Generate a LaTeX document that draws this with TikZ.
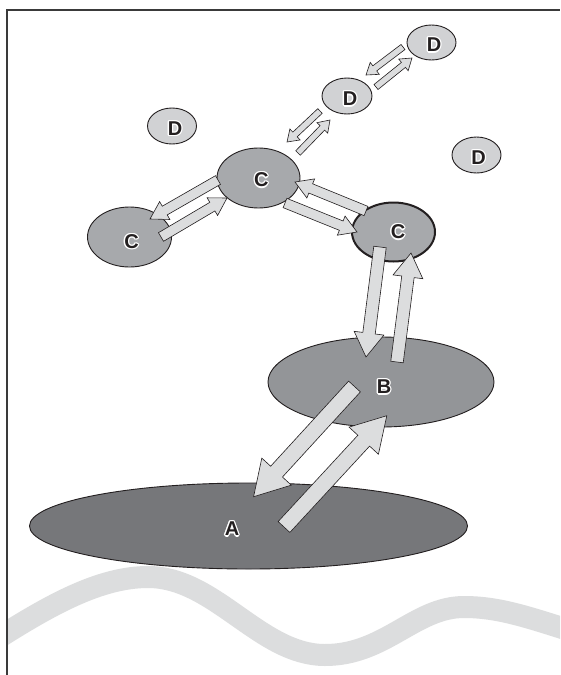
\documentclass[tikz,border=0pt]{standalone}
\usepackage{fontspec}
\setmainfont{Liberation Sans}
\usetikzlibrary{shapes.geometric,calc}
\definecolor{edgec}{HTML}{231F20}
\definecolor{framec}{HTML}{3A3A3A}
\definecolor{lightg}{HTML}{DCDDDE}
\definecolor{dfill}{HTML}{D1D2D4}
\definecolor{cfill}{HTML}{A7A9AC}
\definecolor{bfill}{HTML}{939598}
\definecolor{afill}{HTML}{76777A}
\newlength\olw
\setlength\olw{1.3pt}
\newcommand{\olcopy}[3]{\makebox[0pt][l]{\hspace*{#1}\raisebox{#2}{\color{white}#3}}}
\newcommand{\olab}[1]{%
\olcopy{-\olw}{0pt}{#1}\olcopy{\olw}{0pt}{#1}\olcopy{0pt}{\olw}{#1}\olcopy{0pt}{-\olw}{#1}%
\olcopy{-0.7\olw}{0.7\olw}{#1}\olcopy{0.7\olw}{0.7\olw}{#1}\olcopy{-0.7\olw}{-0.7\olw}{#1}\olcopy{0.7\olw}{-0.7\olw}{#1}%
#1}
\newcommand{\barrow}[5]{%
\filldraw[blockarrow] ($(#1)!#3!90:(#2)$) -- ($(#2)!#5!(#1)!#3!-90:(#1)$) -- ($(#2)!#5!(#1)!#4!-90:(#1)$) -- (#2) -- ($(#2)!#5!(#1)!#4!90:(#1)$) -- ($(#2)!#5!(#1)!#3!90:(#1)$) -- ($(#1)!#3!-90:(#2)$) -- cycle;}
\begin{document}
\begin{tikzpicture}[x=1pt,y=-1pt,
  ell/.style={ellipse, draw=edgec, line width=0.9pt, inner sep=0pt},
  ellD/.style={ell, fill=dfill, minimum width=49pt, minimum height=36pt},
  ellC/.style={ell, fill=cfill, minimum width=83pt, minimum height=60pt},
  lab/.style={inner sep=0pt, text=edgec, font=\fontsize{20}{20}\selectfont\bfseries},
  blockarrow/.style={fill=lightg, draw=edgec, line width=0.6pt, line join=miter},
  wave/.style={draw=lightg, line width=22pt},
  framestyle/.style={draw=framec, line width=1.7pt}]
\useasboundingbox (0,0) rectangle (560,675);
\fill[white] (0,0) rectangle (560,675);
% wave
\begin{scope}
\clip (7,9) rectangle (560,675);
\draw[wave] (-5,640) .. controls (50,605) and (100,577) .. (148,577)
  .. controls (215,577) and (260,655) .. (325,655)
  .. controls (385,655) and (415,607) .. (464,607)
  .. controls (500,607) and (530,618) .. (575,632);
\end{scope}
% frame
\draw[framestyle] (7,675) -- (7,9.8) -- (560,9.8);
% ellipses
\node[ell, fill=afill, minimum width=438pt, minimum height=86pt] (a) at (248.5,526) {};
\node[ell, fill=bfill, minimum width=226pt, minimum height=90pt] (b) at (381,382) {};
\node[ellC] (cc) at (258.5,178) {};
\node[ellC, minimum width=84pt] (cl) at (129.5,237) {};
\node[ellC, line width=2pt, minimum height=59pt] (cr) at (393.5,232) {};
\node[ellD, minimum height=35pt] (d1) at (431.5,42.5) {};
\node[ellD, minimum width=50pt] (d2) at (347,96) {};
\node[ellD] (d3) at (172,126) {};
\node[ellD] (d4) at (476.5,155) {};
% labels
\node[lab] (ld1) at (434,45) {\olab{D}};
\node[lab] (ld2) at (350,99) {\olab{D}};
\node[lab] (ld3) at (175,128.5) {\olab{D}};
\node[lab] (ld4) at (478.5,157.5) {\olab{D}};
\node[lab] (lcc) at (261.3,180) {\olab{C}};
\node[lab] (lcr) at (398,232) {\olab{C}};
\node[lab] (lcl) at (131.5,241.5) {\olab{C}};
\node[lab] (lb) at (384,387) {\olab{B}};
\node[lab] (la) at (232,529) {\olab{A}};
% arrow end points
\coordinate (a1s) at (403,47);    \coordinate (a1e) at (366,75);
\coordinate (a2s) at (376,87);    \coordinate (a2e) at (412,58);
\coordinate (a3s) at (320,111);   \coordinate (a3e) at (287,142);
\coordinate (a4s) at (298,153);   \coordinate (a4e) at (330,120);
\coordinate (a5s) at (218,180);   \coordinate (a5e) at (150,219);
\coordinate (a6s) at (161,237);   \coordinate (a6e) at (227,198);
\coordinate (a7s) at (285,203);   \coordinate (a7e) at (357,232);
\coordinate (a8s) at (366,211);   \coordinate (a8e) at (295,182);
\coordinate (a9s) at (380,247);   \coordinate (a9e) at (366,357);
\coordinate (a10s) at (397,362);  \coordinate (a10e) at (411,253);
\coordinate (a11s) at (354.5,386.5); \coordinate (a11e) at (253.6,496.7);
\coordinate (a12s) at (284,527);  \coordinate (a12e) at (386.8,415.7);
% arrows
\barrow{a1s}{a1e}{3.2pt}{7.5pt}{11pt}
\barrow{a2s}{a2e}{3.2pt}{7.5pt}{11pt}
\barrow{a3s}{a3e}{3.2pt}{7.5pt}{11pt}
\barrow{a4s}{a4e}{3.2pt}{7.5pt}{11pt}
\barrow{a5s}{a5e}{5pt}{10.3pt}{17pt}
\barrow{a6s}{a6e}{5pt}{10.3pt}{17pt}
\barrow{a7s}{a7e}{5pt}{10.3pt}{17pt}
\barrow{a8s}{a8e}{5pt}{10.3pt}{17pt}
\barrow{a9s}{a9e}{6.25pt}{15pt}{24pt}
\barrow{a10s}{a10e}{6.25pt}{15pt}{24pt}
\barrow{a11s}{a11e}{8pt}{20pt}{34pt}
\barrow{a12s}{a12e}{8pt}{20pt}{34pt}
\end{tikzpicture}
\end{document}
